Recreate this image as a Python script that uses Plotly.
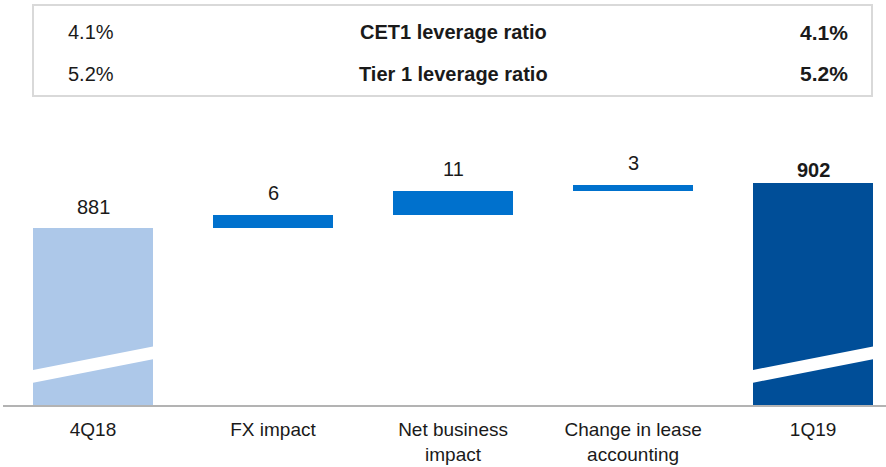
import plotly.graph_objects as go

categories = ["4Q18", "FX impact", "Net business impact", "Change in lease accounting", "1Q19"]
tick_labels = ["4Q18", "FX impact", "Net business<br>impact", "Change in lease<br>accounting", "1Q19"]
start_value = 881
deltas = [6, 11, 3]
end_value = 902
label_texts = ["881", "6", "11", "3", "<b>902</b>"]

table_left = ["4.1%", "5.2%"]
table_mid = ["CET1 leverage ratio", "Tier 1 leverage ratio"]
table_right = ["4.1%", "5.2%"]

LIGHT = "#adc8e9"
MID = "#0071cd"
DARK = "#004e98"
FONT = "Liberation Sans, Arial, sans-serif"
TXT = "#1a1a1a"

# build floating bars
ys, bases, colors = [], [], []
ys.append(start_value); bases.append(0); colors.append(LIGHT)
cum = start_value
for d in deltas:
    ys.append(d); bases.append(cum); colors.append(MID)
    cum += d
ys.append(end_value); bases.append(0); colors.append(DARK)
tops = [b + y for b, y in zip(bases, ys)]

fig = go.Figure()
fig.add_trace(go.Bar(
    x=list(range(len(categories))), y=ys, base=bases,
    marker=dict(color=colors, line=dict(width=0)),
    width=0.667, hoverinfo="skip", showlegend=False,
))

ymin, ymax = 800, 917
shifts = [8, 9, 9, 9, 0]
for i, (t, txt) in enumerate(zip(tops, label_texts)):
    fig.add_annotation(x=i, y=t, text=txt, showarrow=False, yanchor="bottom",
                       yshift=shifts[i], font=dict(family=FONT, size=20, color=TXT))

# axis break stripes on total bars
for i in (0, len(categories) - 1):
    hw = 0.34
    y0l, y0r = 810.1, 821.1
    th = 5.9
    fig.add_shape(type="path",
                  path=f"M {i-hw},{y0l} L {i+hw},{y0r} L {i+hw},{y0r+th} L {i-hw},{y0l+th} Z",
                  xref="x", yref="y", fillcolor="white", line=dict(width=0), layer="above")

# table box
fig.add_shape(type="rect", xref="paper", yref="paper",
              x0=(33 - 3) / 883, x1=(872 - 3) / 883,
              y0=(405 - 96) / 255, y1=(405 - 5) / 255,
              line=dict(color="#d9d9d9", width=2), fillcolor="rgba(0,0,0,0)")
row_y = [32, 74]
for r in range(2):
    py = (405 - row_y[r]) / 255
    fig.add_annotation(x=(66 - 3) / 883, y=py, xref="paper", yref="paper", text=table_left[r],
                       showarrow=False, xanchor="left", yanchor="middle",
                       font=dict(family=FONT, size=20, color=TXT))
    fig.add_annotation(x=2, y=py, xref="x", yref="paper", text=f"<b>{table_mid[r]}</b>",
                       showarrow=False, xanchor="center", yanchor="middle",
                       font=dict(family=FONT, size=20, color=TXT))
    fig.add_annotation(x=(850 - 3) / 883, y=py, xref="paper", yref="paper", text=f"<b>{table_right[r]}</b>",
                       showarrow=False, xanchor="right", yanchor="middle",
                       font=dict(family=FONT, size=21, color=TXT))

fig.update_layout(
    width=886, height=467,
    margin=dict(l=3, r=0, t=150, b=62),
    paper_bgcolor="white", plot_bgcolor="white",
    bargap=0,
    xaxis=dict(range=[-0.5, 4.405], tickvals=list(range(len(categories))), ticktext=tick_labels,
               showline=True, linecolor="#b3b3b3", linewidth=2, showgrid=False, zeroline=False,
               ticks="", ticklabelstandoff=6, automargin=False,
               tickfont=dict(family=FONT, size=19, color=TXT), fixedrange=True),
    yaxis=dict(range=[ymin, ymax], visible=False, showgrid=False, zeroline=False),
)

fig.write_html("out.html", config={"displayModeBar": False},
               post_script="document.body.style.margin='0';document.body.style.overflow='hidden';")
